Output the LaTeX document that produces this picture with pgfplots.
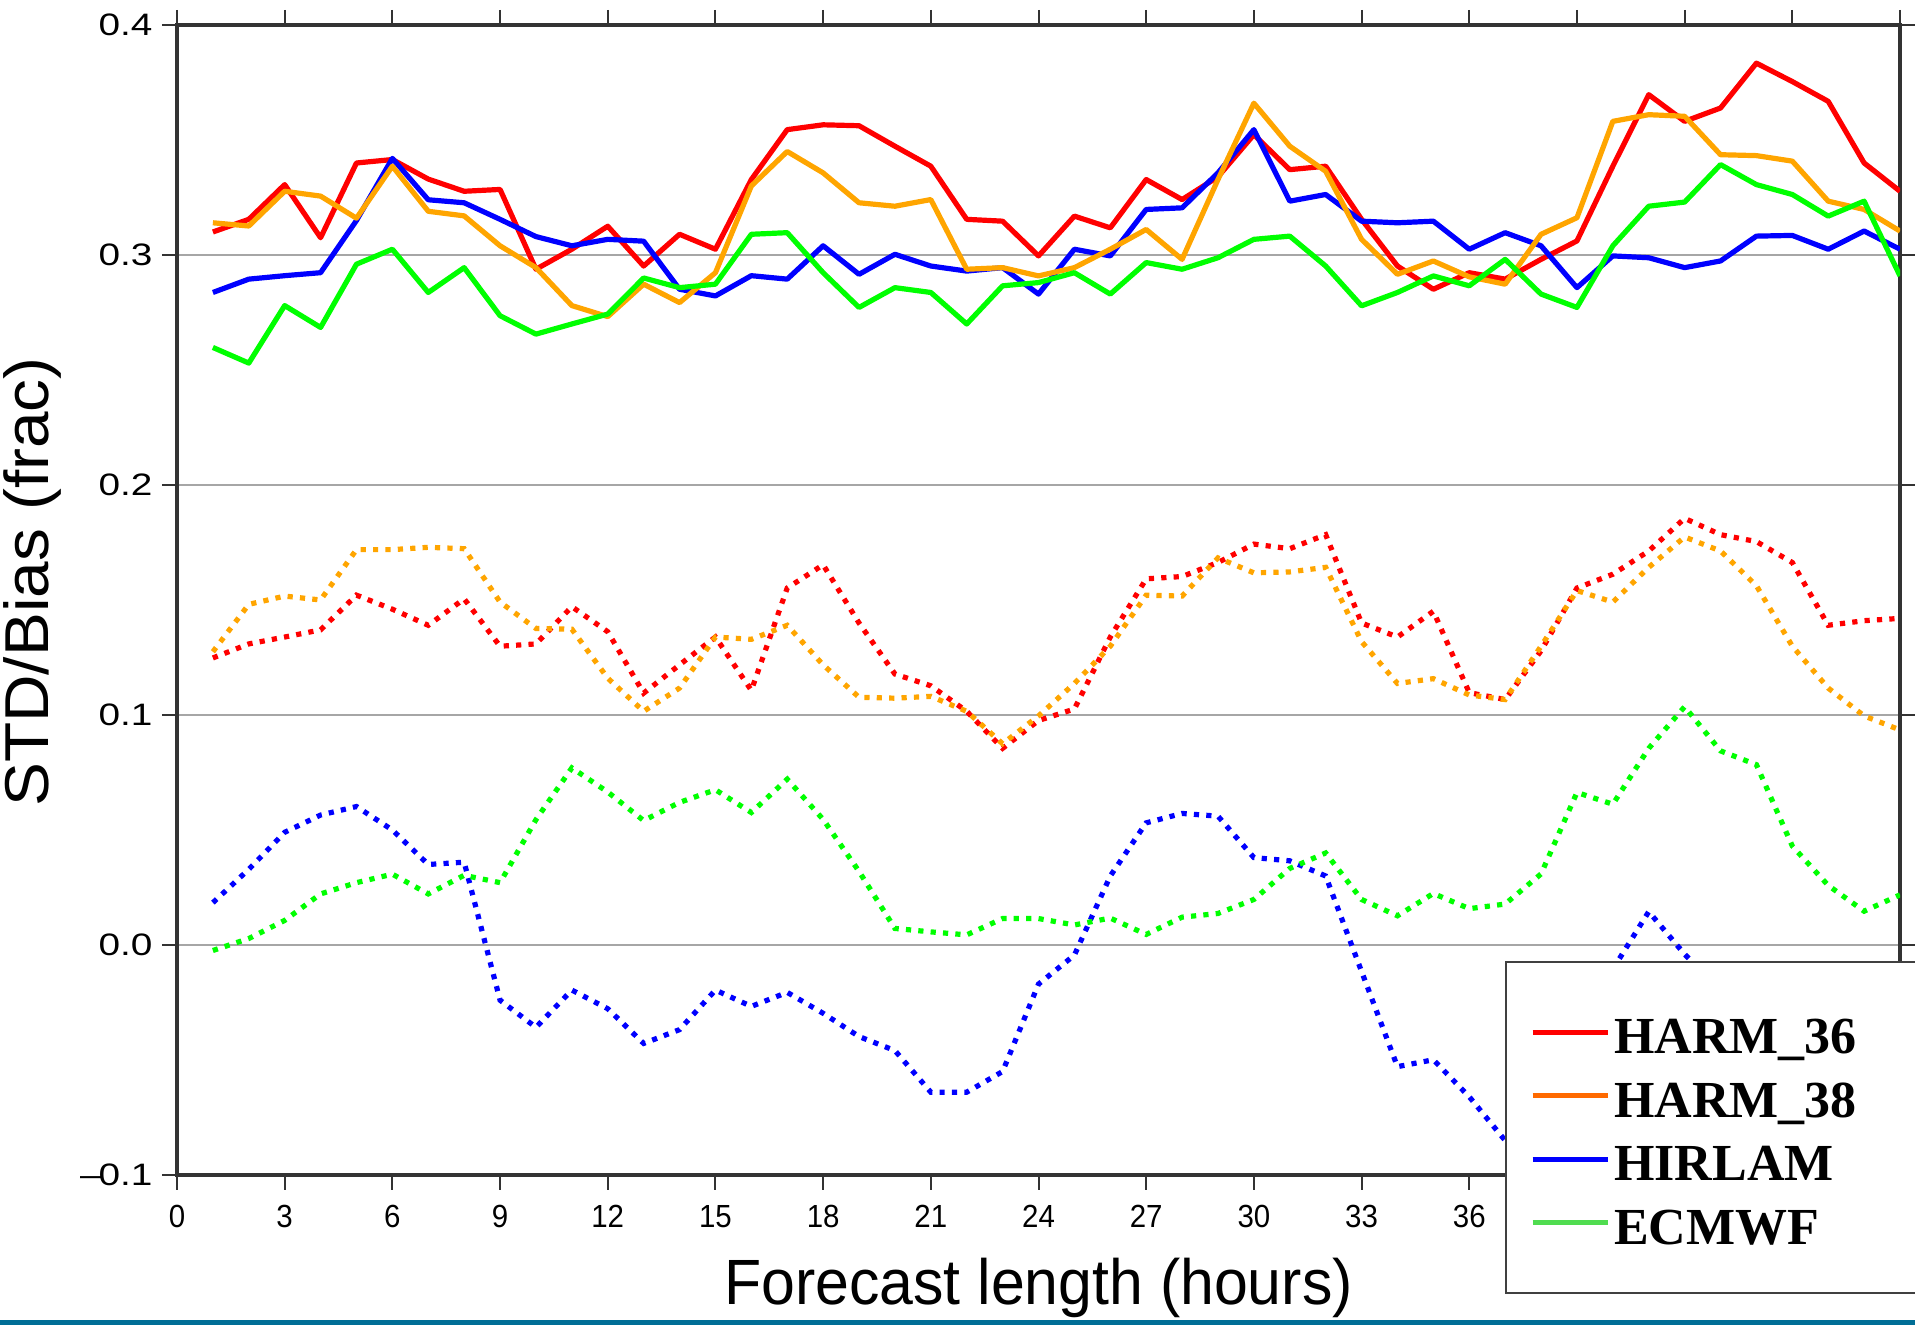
\documentclass[border=0pt]{standalone}
\usepackage{fontspec}
\setmainfont{Liberation Sans}
\newfontfamily\legendfont{Liberation Serif}
\newfontfamily\xlabfont{Liberation Sans}[FakeStretch=0.95]
\newfontfamily\ylabfont{Liberation Sans}[FakeStretch=1.06]
\newfontfamily\yticfont{Liberation Sans}[FakeStretch=1.25]
\newfontfamily\xticfont{Liberation Sans}[FakeStretch=0.92]
\usepackage{pgfplots}
\usepackage{pgfplotstable}
\pgfplotsset{compat=1.18}

\definecolor{cRed}{RGB}{255,0,0}
\definecolor{cOrange}{RGB}{255,165,0}
\definecolor{cBlue}{RGB}{0,0,255}
\definecolor{cGreen}{RGB}{0,255,0}
\definecolor{lOrange}{RGB}{255,106,0}
\definecolor{lGreen}{RGB}{80,220,80}
\definecolor{barblue}{RGB}{0,110,150}

% STD (solid lines)
\pgfplotstableread{
h  harm36 harm38 hirlam ecmwf
1  0.3100 0.3140 0.2837 0.2598
2  0.3155 0.3126 0.2895 0.2530
3  0.3306 0.3277 0.2910 0.2780
4  0.3075 0.3256 0.2923 0.2685
5  0.3400 0.3160 0.3150 0.2960
6  0.3415 0.3386 0.3420 0.3025
7  0.3330 0.3190 0.3240 0.2837
8  0.3277 0.3170 0.3227 0.2945
9  0.3285 0.3040 0.3155 0.2736
10 0.2938 0.2945 0.3080 0.2656
11 0.3025 0.2780 0.3040 0.2700
12 0.3125 0.2732 0.3068 0.2743
13 0.2952 0.2873 0.3060 0.2900
14 0.3090 0.2793 0.2851 0.2858
15 0.3025 0.2923 0.2822 0.2873
16 0.3328 0.3300 0.2910 0.3090
17 0.3545 0.3450 0.2895 0.3097
18 0.3566 0.3357 0.3040 0.2923
19 0.3562 0.3227 0.2916 0.2772
20 0.3473 0.3212 0.3003 0.2858
21 0.3386 0.3241 0.2952 0.2837
22 0.3155 0.2938 0.2930 0.2700
23 0.3147 0.2945 0.2945 0.2866
24 0.2996 0.2909 0.2830 0.2880
25 0.3169 0.2945 0.3025 0.2923
26 0.3118 0.3025 0.2996 0.2830
27 0.3328 0.3111 0.3198 0.2967
28 0.3241 0.2981 0.3205 0.2938
29 0.3340 0.3328 0.3357 0.2988
30 0.3523 0.3660 0.3545 0.3068
31 0.3371 0.3473 0.3234 0.3082
32 0.3386 0.3364 0.3263 0.2952
33 0.3155 0.3068 0.3147 0.2779
34 0.2952 0.2916 0.3140 0.2837
35 0.2851 0.2974 0.3147 0.2909
36 0.2923 0.2905 0.3025 0.2866
37 0.2895 0.2873 0.3097 0.2981
38 0.2981 0.3090 0.3040 0.2830
39 0.3061 0.3162 0.2858 0.2772
40 0.3386 0.3581 0.2996 0.3040
41 0.3697 0.3610 0.2988 0.3212
42 0.3581 0.3603 0.2945 0.3230
43 0.3639 0.3436 0.2974 0.3393
44 0.3834 0.3432 0.3082 0.3306
45 0.3754 0.3408 0.3085 0.3263
46 0.3668 0.3234 0.3025 0.3169
47 0.3400 0.3198 0.3104 0.3234
48 0.3277 0.3104 0.3025 0.2909
}\stdtab

% Bias (dotted lines)
\pgfplotstableread{
h  harm36 harm38 hirlam  ecmwf
1  0.1248 0.1275  0.0184 -0.0024
2  0.1309 0.1481  0.0329  0.0028
3  0.1339 0.1517  0.0490  0.0107
4  0.1370 0.1500  0.0565  0.0222
5  0.1521 0.1719  0.0602  0.0271
6  0.1460 0.1719  0.0500  0.0308
7  0.1390 0.1729  0.0350  0.0222
8  0.1505 0.1723  0.0360  0.0303
9  0.1299 0.1491 -0.0240  0.0271
10 0.1309 0.1376 -0.0358  0.0545
11 0.1471 0.1373 -0.0196  0.0770
12 0.1362 0.1160 -0.0277  0.0665
13 0.1095 0.1016 -0.0428  0.0541
14 0.1218 0.1117 -0.0368  0.0620
15 0.1339 0.1339 -0.0196  0.0675
16 0.1107 0.1329 -0.0267  0.0576
17 0.1552 0.1390 -0.0206  0.0721
18 0.1653 0.1218 -0.0297  0.0546
19 0.1400 0.1077 -0.0398  0.0320
20 0.1178 0.1073 -0.0459  0.0072
21 0.1127 0.1081 -0.0640  0.0057
22 0.1016 0.1016 -0.0640  0.0044
23 0.0855 0.0875 -0.0550  0.0115
24 0.0976 0.0996 -0.0170  0.0115
25 0.1026 0.1137 -0.0044  0.0087
26 0.1339 0.1299  0.0300  0.0117
27 0.1592 0.1521  0.0531  0.0046
28 0.1602 0.1517  0.0572  0.0121
29 0.1663 0.1683  0.0560  0.0137
30 0.1743 0.1618  0.0380  0.0198
31 0.1723 0.1622  0.0366  0.0333
32 0.1784 0.1642  0.0300  0.0400
33 0.1400 0.1319 -0.0115  0.0198
34 0.1339 0.1137 -0.0529  0.0127
35 0.1451 0.1158 -0.0499  0.0224
36 0.1097 0.1087 -0.0660  0.0158
37 0.1067 0.1067 -0.0850  0.0178
38 0.1279 0.1299 -0.0700  0.0309
39 0.1552 0.1541 -0.0400  0.0663
40 0.1612 0.1491 -0.0105  0.0612
41 0.1713 0.1642  0.0145  0.0855
42 0.1855 0.1774 -0.0040  0.1036
43 0.1784 0.1713 -0.0200  0.0844
44 0.1754 0.1562 -0.0300  0.0784
45 0.1663 0.1299 -0.0350  0.0430
46 0.1390 0.1117 -0.0400  0.0259
47 0.1410 0.0996 -0.0400  0.0147
48 0.1420 0.0935 -0.0450  0.0218
}\biastab

\newcommand{\legent}[1]{\hspace*{2pt}\makebox[185pt][l]{#1}}

\begin{document}
\begin{tikzpicture}
\begin{axis}[
  at={(0pt,0pt)}, anchor=south west,
  scale only axis, width=861.5pt, height=575pt,
  xmin=0, xmax=48, ymin=-0.1, ymax=0.4,
  xtick={0,3,...,48},
  xticklabels={0,3,6,9,12,15,18,21,24,27,30,33,36,,,,},
  ytick={-0.1,0,0.1,0.2,0.3,0.4},
  yticklabels={\textendash\kern-0.1em0.1,0.0,0.1,0.2,0.3,0.4},
  tick align=outside,
  major tick length=7.5pt,
  tick style={black!80, line width=1pt},
  axis line style={black!80, line width=2pt},
  ymajorgrids,
  grid style={black!35, line width=0.6pt},
  xticklabel style={font=\xticfont\fontsize{16}{16}\selectfont, yshift=-4pt},
  yticklabel style={font=\yticfont\fontsize{15.5}{15.5}\selectfont, xshift=-1.2pt},
  xlabel={Forecast length (hours)},
  ylabel={STD/Bias (frac)},
  xlabel style={font=\xlabfont\fontsize{32}{32}\selectfont,
    at={(axis description cs:0.5,-0.1122)}, anchor=base},
  ylabel style={font=\ylabfont\fontsize{31}{31}\selectfont,
    at={(axis description cs:-0.0836,0.5157)}, anchor=center},
  legend image code/.code={\draw[#1, solid, line width=2.6pt] (0pt,0pt) -- (37.5pt,0pt);},
  legend cell align=left,
  legend style={
    at={(0.7707,0.1861)}, anchor=north west,
    draw=black!75, line width=1pt, fill=white,
    inner xsep=12pt, inner ysep=19.25pt,
    font=\legendfont\bfseries\fontsize{26}{26}\selectfont,
    nodes={inner sep=0pt, text height=26.75pt, text depth=5pt},
    /tikz/column 2/.style={column sep=6.5pt},
  },
]
% dotted: bias
\addplot[forget plot, cRed, line width=2.6pt, dash pattern=on 2.6pt off 3.6pt] table[x=h,y=harm36]{\biastab};
\addplot[forget plot, cBlue, line width=2.6pt, dash pattern=on 2.6pt off 3.6pt] table[x=h,y=hirlam]{\biastab};
\addplot[forget plot, cOrange, line width=2.6pt, dash pattern=on 2.6pt off 3.6pt] table[x=h,y=harm38]{\biastab};
\addplot[forget plot, cGreen, line width=2.6pt, dash pattern=on 2.6pt off 3.6pt] table[x=h,y=ecmwf]{\biastab};
% solid: STD
\addplot[forget plot, cRed, line width=2.6pt, line join=round] table[x=h,y=harm36]{\stdtab};
\addplot[forget plot, cBlue, line width=2.6pt, line join=round] table[x=h,y=hirlam]{\stdtab};
\addplot[forget plot, cOrange, line width=2.6pt, line join=round] table[x=h,y=harm38]{\stdtab};
\addplot[forget plot, cGreen, line width=2.6pt, line join=round] table[x=h,y=ecmwf]{\stdtab};
% legend
\addlegendimage{color=cRed}
\addlegendentry{\legent{HARM\_36}}
\addlegendimage{color=lOrange}
\addlegendentry{\legent{HARM\_38}}
\addlegendimage{color=cBlue}
\addlegendentry{\legent{HIRLAM}}
\addlegendimage{color=lGreen}
\addlegendentry{\legent{ECMWF}}
\end{axis}
\fill[barblue] (-88.5pt,-75pt) rectangle (869pt,-72.5pt);
\pgfresetboundingbox
\useasboundingbox (-88.5pt,-75pt) rectangle (869pt,587.5pt);
\end{tikzpicture}
\end{document}
